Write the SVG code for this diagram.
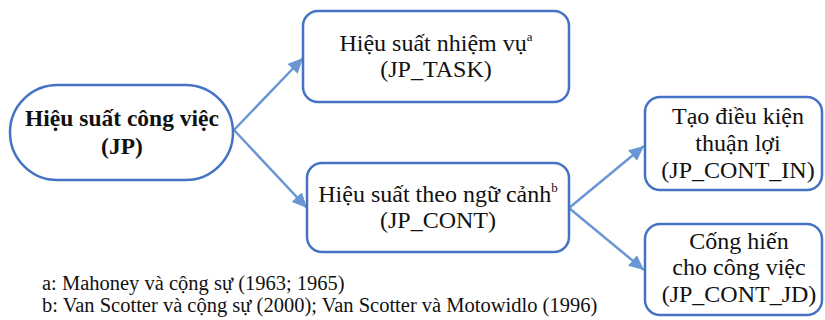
<svg xmlns="http://www.w3.org/2000/svg" width="825" height="320" viewBox="0 0 825 320">
  <defs>
    <marker id="arr" markerUnits="userSpaceOnUse" markerWidth="16" markerHeight="14" refX="15" refY="7" orient="auto">
      <path d="M0,0 L15,7 L0,14 z" fill="#6A96D4"/>
    </marker>
    <style>
      .box { fill: #ffffff; stroke: #4472C4; stroke-width: 2.5; }
      .t { font-family: "Liberation Serif", "Times New Roman", serif; font-size: 24px; fill: #111111; text-anchor: middle; }
      .tb { font-family: "Liberation Serif", "Times New Roman", serif; font-size: 23.5px; font-weight: bold; fill: #111111; text-anchor: middle; }
      .sup { font-size: 13px; }
      .fn { font-family: "Liberation Serif", "Times New Roman", serif; font-size: 20.5px; fill: #111111; }
      .conn { stroke: #6A96D4; stroke-width: 2.5; fill: none; marker-end: url(#arr); }
    </style>
  </defs>
  <rect width="825" height="320" fill="#ffffff"/>

  <g id="connectors">
    <line class="conn" x1="234" y1="130" x2="303" y2="58"/>
    <line class="conn" x1="234" y1="130" x2="307" y2="208"/>
    <line class="conn" x1="569" y1="208" x2="644" y2="146"/>
    <line class="conn" x1="569" y1="208" x2="644" y2="270"/>
  </g>

  <g id="node-jp">
    <rect class="box" x="10" y="85" width="223" height="95" rx="47.5" ry="47.5"/>
    <text class="tb" x="122" y="126">Hiệu suất công việc</text>
    <text class="tb" x="122" y="154">(JP)</text>
  </g>

  <g id="node-jp-task">
    <rect class="box" x="303" y="11" width="266" height="91" rx="15" ry="15"/>
    <text class="t" x="436" y="51">Hiệu suất nhiệm vụ<tspan class="sup" dy="-10">a</tspan></text>
    <text class="t" x="436" y="77">(JP_TASK)</text>
  </g>

  <g id="node-jp-cont">
    <rect class="box" x="307" y="163" width="262" height="89" rx="15" ry="15"/>
    <text class="t" x="438" y="202">Hiệu suất theo ngữ cảnh<tspan class="sup" dy="-10">b</tspan></text>
    <text class="t" x="438" y="228">(JP_CONT)</text>
  </g>

  <g id="node-jp-cont-in">
    <rect class="box" x="645" y="97" width="177" height="93" rx="15" ry="15"/>
    <text class="t" x="738" y="124">Tạo điều kiện</text>
    <text class="t" x="738" y="151">thuận lợi</text>
    <text class="t" x="738" y="178">(JP_CONT_IN)</text>
  </g>

  <g id="node-jp-cont-jd">
    <rect class="box" x="645" y="224" width="177" height="91" rx="15" ry="15"/>
    <text class="t" x="739" y="249">Cống hiến</text>
    <text class="t" x="739" y="275">cho công việc</text>
    <text class="t" x="739" y="302">(JP_CONT_JD)</text>
  </g>

  <g id="footnotes">
    <text class="fn" x="42" y="290">a: Mahoney và cộng sự (1963; 1965)</text>
    <text class="fn" x="42" y="312">b: Van Scotter và cộng sự (2000); Van Scotter và Motowidlo (1996)</text>
  </g>
</svg>
